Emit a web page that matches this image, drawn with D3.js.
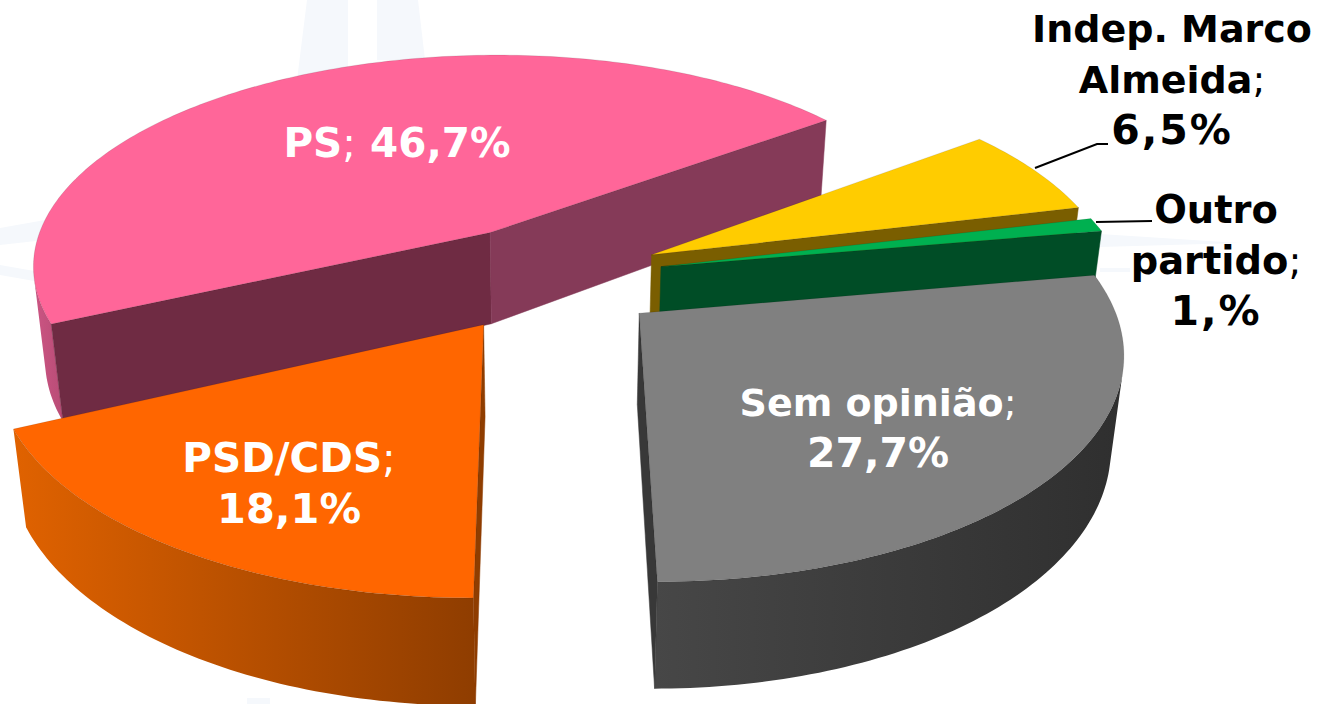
<!DOCTYPE html>
<html>
<head>
<meta charset="utf-8">
<script src="https://cdnjs.cloudflare.com/ajax/libs/d3/7.8.5/d3.min.js"></script>
<style>
  html, body { margin: 0; padding: 0; background: #fff; }
  svg { display: block; }
  text { font-family: "DejaVu Sans", Verdana, sans-serif; font-weight: bold; text-anchor: middle; }
  .semi { font-weight: normal; }
</style>
</head>
<body>
<script>
// Slices in drawing order, back to front.
var parties = ["PS", "Indep. Marco Almeida", "Outro partido", "Sem opinião", "PSD/CDS"];
var shares = [46.7, 6.5, 1, 27.7, 18.1];
var shareLabels = ["46,7%", "6,5%", "1,%", "27,7%", "18,1%"];
var nameLines = [["PS"], ["Indep. Marco", "Almeida"], ["Outro", "partido"], ["Sem opinião"], ["PSD/CDS"]];

// Colours for the top, the two cut faces and the outer wall of each slice.
var topColors = ["#ff6699", "#ffcc00", "#00b050", "#808080", "#ff6600"];
var startWallColors = ["#6f2b43", "#7a5e00", "#004d26", "#383838", "#8f3d00"];
var endWallColors = ["#853a58", "#7a5e00", "#004d26", "#383838", "#8f3d00"];
var outerLeft = ["#cc5583", "#7a5e00", "#0a7a3a", "#474747", "#e06200"];
var outerRight = ["#b84c76", "#7a5e00", "#0a7a3a", "#2f2f2f", "#8f3d00"];

// Setup plot size and the fake 3D camera.
var width = 1324;
var height = 704;
var centerX = 548;
var centerY = 277.5;
var explode = 0.25;
var perspY = 0.15;
var perspZ = 0.022;
var depthGrowth = 0.06;
var firstAngle = 245 * Math.PI / 180;
var step = Math.PI / 180;
// PS is a bit deeper so that its wall runs under the orange slice.
var sliceDepth = [1.06, 1, 1, 1, 1];

var xScale = d3.scaleLinear().domain([0, 1]).range([0, 465]);
var yScale = d3.scaleLinear().domain([0, 1]).range([0, 216.5]);
var zScale = d3.scaleLinear().domain([0, 1]).range([0, 91]);

function project (x, y, z) {
    var w = 1 - perspY * y + perspZ * z;
    return [centerX + xScale(x) / w, centerY + (yScale(y) + zScale(z) * (1 + depthGrowth * y)) / w];
}

var pie = d3.pie().sort(null).startAngle(firstAngle).endAngle(firstAngle + 2 * Math.PI);
var arcs = pie(shares);

// Every slice gets its own shifted centre.
function slicePoint (d, angle, r, z) {
    var mid = (d.startAngle + d.endAngle) / 2;
    var x = explode * Math.sin(mid) + r * Math.sin(angle);
    var y = -explode * Math.cos(mid) - r * Math.cos(angle);
    return project(x, y, z * sliceDepth[d.index]);
}

function anglesOf (d) {
    var list = d3.range(d.startAngle, d.endAngle, step);
    list.push(d.endAngle);
    return list;
}

var line = d3.line().curve(d3.curveLinearClosed);

// d3.polygonArea is positive for the walls that look towards the camera.
function isFacing (points) {
    return d3.polygonArea(points) > 0;
}

var svg = d3.select("body").append("svg")
            .attr("width", width)
            .attr("height", height);
var defs = svg.append("defs");

// Pale watermark behind the chart.
var watermark = [
    [[307, 0], [348, 0], [348, 80], [297, 80]],
    [[377, 0], [418, 0], [425, 60], [377, 60]],
    [[0, 228], [45, 220], [45, 240], [0, 245]],
    [[0, 265], [40, 272], [40, 282], [0, 275]],
    [[1100, 234], [1240, 243], [1100, 247]],
    [[1100, 268], [1130, 268], [1130, 272], [1100, 272]],
    [[247, 698], [270, 698], [270, 704], [247, 704]]
];
svg.append("g")
   .selectAll("path")
   .data(watermark)
   .join("path")
   .attr("d", line)
   .attr("fill", "#f5f8fc");

var slices = svg.selectAll(".slice")
                .data(arcs)
                .join("g")
                .attr("class", "slice");

slices.each(function (d, i) {
    var g = d3.select(this);
    var angles = anglesOf(d);

    // Outer wall: keep the part of the arc that faces the camera.
    var visible = [];
    angles.slice(1).forEach(function (a, k) {
        var a0 = angles[k];
        var quad = [slicePoint(d, a0, 1, 0), slicePoint(d, a, 1, 0), slicePoint(d, a, 1, 1), slicePoint(d, a0, 1, 1)];
        if (isFacing(quad)) {
            if (!visible.length) visible.push(a0);
            visible.push(a);
        }
    });
    if (visible.length) {
        var wall = visible.map(a => slicePoint(d, a, 1, 0))
                          .concat(visible.slice().reverse().map(a => slicePoint(d, a, 1, 1)));
        var xExtent = d3.extent(wall, p => p[0]);
        var gradient = defs.append("linearGradient")
                           .attr("id", "outer" + i)
                           .attr("gradientUnits", "userSpaceOnUse")
                           .attr("x1", xExtent[0])
                           .attr("x2", xExtent[1])
                           .attr("y1", 0)
                           .attr("y2", 0);
        gradient.append("stop").attr("offset", 0).attr("stop-color", outerLeft[i]);
        gradient.append("stop").attr("offset", 1).attr("stop-color", outerRight[i]);
        g.append("path")
         .attr("d", line(wall))
         .attr("fill", "url(#outer" + i + ")");
    }

    // The two cut faces.
    var startWall = [slicePoint(d, 0, 0, 0), slicePoint(d, d.startAngle, 1, 0), slicePoint(d, d.startAngle, 1, 1), slicePoint(d, 0, 0, 1)];
    var endWall = [slicePoint(d, d.endAngle, 1, 0), slicePoint(d, 0, 0, 0), slicePoint(d, 0, 0, 1), slicePoint(d, d.endAngle, 1, 1)];
    var walls = [{ quad: startWall, color: startWallColors[i] }, { quad: endWall, color: endWallColors[i] }]
                .filter(w => isFacing(w.quad));
    g.selectAll(".wall")
     .data(walls)
     .join("path")
     .attr("class", "wall")
     .attr("d", w => line(w.quad))
     .attr("fill", w => w.color)
     .attr("stroke", w => w.color)
     .attr("stroke-width", 0.5);

    // Top face.
    var topFace = [slicePoint(d, 0, 0, 0)].concat(angles.map(a => slicePoint(d, a, 1, 0)));
    g.append("path")
     .attr("d", line(topFace))
     .attr("fill", topColors[i])
     .attr("stroke", "#000")
     .attr("stroke-opacity", 0.15)
     .attr("stroke-width", 0.7);
});

// Leader lines for the two labels outside the pie.
var leaders = [
    [[1035, 168], [1097, 144], [1108, 144]],
    [[1096, 222], [1152, 221]]
];
svg.append("g")
   .selectAll("path")
   .data(leaders)
   .join("path")
   .attr("d", d3.line())
   .attr("fill", "none")
   .attr("stroke", "#000")
   .attr("stroke-width", 2);

// Labels: centre x, first baseline, font sizes and colour for each party.
var labelX = [397, 1172, 1216, 878, 289];
var labelY = [157, 42, 223, 416, 472];
var labelColor = ["#fff", "#000", "#000", "#fff", "#fff"];
var nameSize = [40.5, 38, 38.4, 38, 40.5];
var shareSize = [40.5, 41, 41, 41, 41.5];
var shareSpacing = [0, 2, 2, 0, 0];
var rowGap = 51;

function labelRows (i) {
    var rows = nameLines[i].map((t, k) => ({ text: t, semi: k === nameLines[i].length - 1, size: nameSize[i], spacing: 0 }));
    // The PS label keeps its value on the same line.
    if (i === 0) {
        return [{ text: rows[0].text, semi: true, size: nameSize[i], spacing: 0, tail: " " + shareLabels[i] }];
    }
    rows.push({ text: shareLabels[i], semi: false, size: shareSize[i], spacing: shareSpacing[i] });
    return rows;
}

var labels = svg.selectAll(".label")
                .data(parties)
                .join("text")
                .attr("class", "label")
                .attr("fill", (d, i) => labelColor[i]);

labels.each(function (d, i) {
    var text = d3.select(this);
    labelRows(i).forEach(function (row, k) {
        text.append("tspan")
            .attr("x", labelX[i])
            .attr("y", labelY[i] + k * rowGap)
            .attr("font-size", row.size)
            .attr("letter-spacing", row.spacing)
            .text(row.text);
        if (row.semi) {
            text.append("tspan").attr("class", "semi").attr("font-size", row.size).text(";");
        }
        if (row.tail) {
            text.append("tspan").attr("font-size", row.size).text(row.tail);
        }
    });
});
</script>
</body>
</html>
